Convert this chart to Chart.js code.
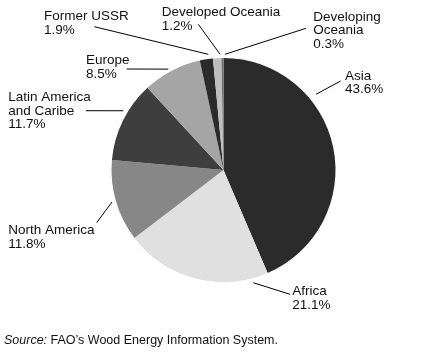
<!DOCTYPE html>
<html>
<head>
<meta charset="utf-8">
<script src="https://cdn.jsdelivr.net/npm/chart.js@4/dist/chart.umd.min.js"></script>
<style>
  html, body { margin: 0; padding: 0; background: #ffffff; }
  #wrap { position: relative; width: 432px; height: 352px; }
  canvas { display: block; }
</style>
</head>
<body>
<div id="wrap"><canvas id="c" width="432" height="352"></canvas></div>
<script>
// ---- data ----
const categories = ['Asia', 'Africa', 'North America', 'Latin America and Caribe', 'Europe', 'Former USSR', 'Developed Oceania', 'Developing Oceania'];
const shares = [43.6, 21.1, 11.8, 11.7, 8.5, 1.9, 1.2, 0.3];
const nameLines = [['Asia'], ['Africa'], ['North America'], ['Latin America', 'and Caribe'], ['Europe'], ['Former USSR'], ['Developed Oceania'], ['Developing', 'Oceania']];
const sourceNote = ['Source:', ' FAO\u2019s Wood Energy Information System.'];

// ---- styles ----
const sliceColors = ['#2b2b2b', '#e0e0e0', '#878787', '#3e3e3e', '#a5a5a5', '#2b2b2b', '#bfbfbf', '#707070'];
const FONT = '13.5px "Liberation Sans", Arial, Helvetica, sans-serif';
const LINE_H = 13.5;
// callout layout: leader start given as polar (deg clockwise from top, px beyond rim), end absolute; text anchor absolute
const callouts = [
  { a: 50.7,  d: 7.5, end: [340.7, 81],   text: [345, 79.5] },
  { a: 165.2, d: 4.6, end: [290, 294.3],  text: [292.3, 295] },
  { a: 254,   d: 4,   end: [96.7, 222.7], text: [8.3, 234.3] },
  { a: 300.6, d: 4.4, end: [86, 110.7],   text: [8.3, 101.3] },
  { a: 331.3, d: 3,   end: [126.7, 69],   text: [86, 64.3] },
  { a: 352.5, d: 4.7, end: [94.3, 26.7],  text: [44, 20] },
  { a: 358.3, d: 3.8, end: [198.3, 24.3], text: [161.7, 16] },
  { a: 0.7,   d: 3.7, end: [306, 28.3],   text: [313.3, 20.7] }
];

const calloutPlugin = {
  id: 'callouts',
  afterDraw(chart) {
    const ctx = chart.ctx;
    const arcs = chart.getDatasetMeta(0).data;
    const cx = arcs[0].x, cy = arcs[0].y, R = arcs[0].outerRadius;
    ctx.save();
    ctx.strokeStyle = '#000';
    ctx.lineWidth = 1;
    ctx.fillStyle = '#111';
    ctx.font = FONT;
    ctx.textBaseline = 'alphabetic';
    ctx.textAlign = 'left';
    callouts.forEach((c, i) => {
      const ang = c.a * Math.PI / 180;
      const sx = cx + Math.sin(ang) * (R + c.d);
      const sy = cy - Math.cos(ang) * (R + c.d);
      ctx.beginPath();
      ctx.moveTo(sx, sy);
      ctx.lineTo(c.end[0], c.end[1]);
      ctx.stroke();
      const lines = nameLines[i].concat([shares[i].toFixed(1) + '%']);
      lines.forEach((t, k) => ctx.fillText(t, c.text[0], c.text[1] + k * LINE_H));
    });
    // source note
    ctx.font = 'italic 12.5px "Liberation Sans", Arial, sans-serif';
    ctx.fillText(sourceNote[0], 4, 344);
    const w = ctx.measureText(sourceNote[0]).width;
    ctx.font = '12.5px "Liberation Sans", Arial, sans-serif';
    ctx.fillText(sourceNote[1], 4 + w, 344);
    ctx.restore();
  }
};

new Chart(document.getElementById('c'), {
  type: 'pie',
  data: {
    labels: categories,
    datasets: [{
      data: shares,
      backgroundColor: sliceColors,
      borderWidth: 0
    }]
  },
  options: {
    responsive: false,
    animation: false,
    devicePixelRatio: 1,
    rotation: 0,
    layout: { padding: { left: 111.5, right: 96.5, top: 58, bottom: 70 } },
    plugins: { legend: { display: false }, tooltip: { enabled: false }, title: { display: false } }
  },
  plugins: [calloutPlugin]
});
</script>
</body>
</html>
